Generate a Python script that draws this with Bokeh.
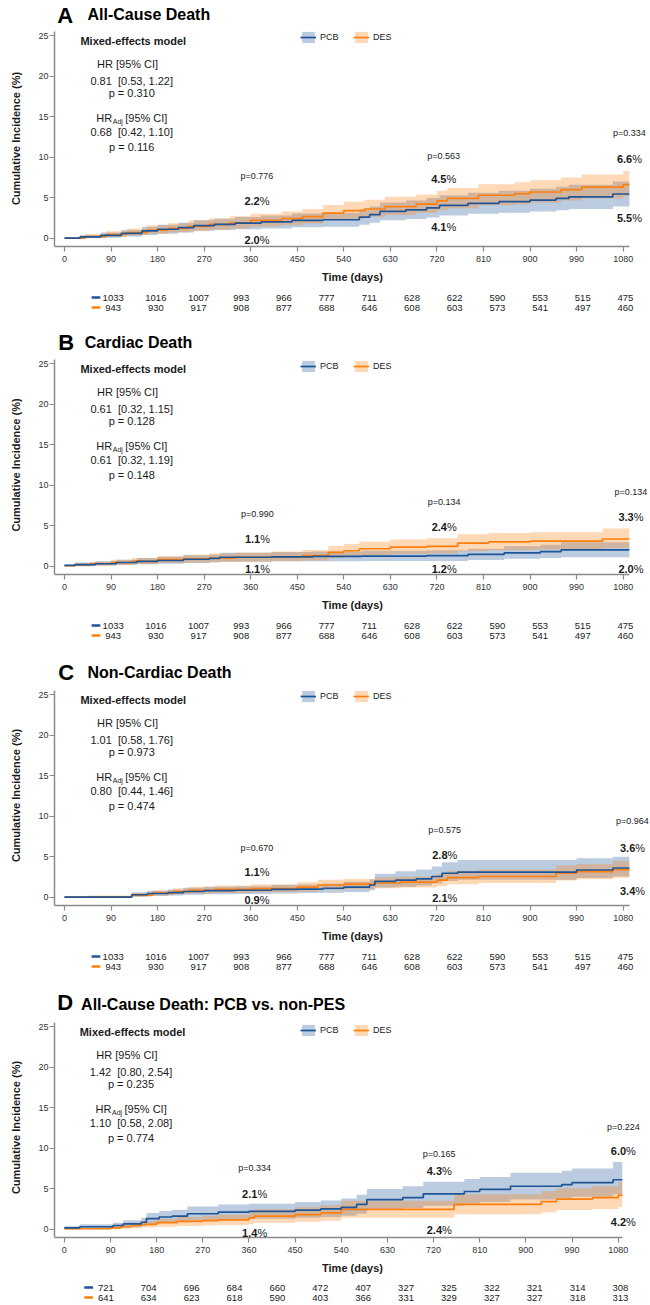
from bokeh.plotting import figure
from bokeh.models import Range1d, FixedTicker, Label, Legend, LegendItem
from bokeh.layouts import column
from bokeh.embed import file_html
from bokeh.resources import INLINE
from bokeh.core.properties import value

FONT = "Liberation Sans"
BLUE = "#1f5597"
ORANGE = "#ff7f0e"
AXIS_GRAY = "#8a8a8a"
TXT = "#1a1a1a"
W = 650

DAYS = [0, 90, 180, 270, 360, 450, 540, 630, 720, 810, 900, 990, 1080]
Y_TICKS = [0, 5, 10, 15, 20, 25]
SERIES = ["PCB", "DES"]

# ---------------- numbers at risk ----------------
RISK_PCB = [1033, 1016, 1007, 993, 966, 777, 711, 628, 622, 590, 553, 515, 475]
RISK_DES = [943, 930, 917, 908, 877, 688, 646, 608, 603, 573, 541, 497, 460]
RISK_PCB_D = [721, 704, 696, 684, 660, 472, 407, 327, 325, 322, 321, 314, 308]
RISK_DES_D = [641, 634, 623, 618, 590, 403, 366, 331, 329, 327, 327, 318, 313]

# ---------------- A: All-cause death ----------------
A_PCB_T = [0, 30, 70, 110, 150, 180, 220, 250, 290, 330, 380, 440, 500, 570, 590, 610, 660, 700, 725, 780, 840, 900, 950, 975, 1060, 1092]
A_PCB_EST = [0.0, 0.15, 0.35, 0.6, 0.9, 1.1, 1.3, 1.55, 1.7, 1.85, 2.0, 2.2, 2.27, 2.6, 2.9, 3.3, 3.5, 3.75, 4.05, 4.3, 4.5, 4.7, 4.9, 5.1, 5.45, 5.45]
A_PCB_LO = [0.0, 0.0, 0.05, 0.2, 0.4, 0.55, 0.7, 0.9, 1.0, 1.1, 1.2, 1.35, 1.4, 1.65, 1.9, 2.2, 2.35, 2.55, 2.8, 3.0, 3.15, 3.3, 3.45, 3.6, 3.9, 3.9]
A_PCB_HI = [0.0, 0.4, 0.7, 1.0, 1.4, 1.65, 1.9, 2.2, 2.4, 2.6, 2.8, 3.05, 3.15, 3.55, 3.9, 4.4, 4.65, 4.95, 5.3, 5.6, 5.85, 6.1, 6.35, 6.6, 7.0, 7.0]
A_DES_T = [0, 40, 80, 120, 160, 200, 240, 280, 320, 360, 420, 460, 500, 540, 580, 620, 680, 720, 740, 800, 870, 900, 960, 1000, 1080, 1092]
A_DES_EST = [0.0, 0.2, 0.45, 0.7, 1.0, 1.2, 1.45, 1.7, 1.9, 2.2, 2.4, 2.65, 3.1, 3.4, 3.6, 3.9, 4.2, 4.6, 4.9, 5.3, 5.5, 5.7, 6.0, 6.3, 6.6, 6.6]
A_DES_LO = [0.0, 0.05, 0.15, 0.35, 0.55, 0.7, 0.85, 1.05, 1.2, 1.45, 1.6, 1.8, 2.2, 2.4, 2.6, 2.85, 3.1, 3.45, 3.7, 4.05, 4.2, 4.4, 4.65, 4.9, 5.2, 5.2]
A_DES_HI = [0.0, 0.5, 0.85, 1.2, 1.6, 1.85, 2.2, 2.45, 2.7, 3.0, 3.3, 3.6, 4.1, 4.5, 4.75, 5.1, 5.4, 5.85, 6.2, 6.65, 6.9, 7.15, 7.5, 7.85, 8.3, 8.3]

# ---------------- B: Cardiac death ----------------
B_PCB_T = [0, 20, 60, 100, 140, 180, 230, 280, 300, 400, 480, 575, 700, 780, 850, 920, 960, 1040, 1092]
B_PCB_EST = [0.1, 0.2, 0.3, 0.45, 0.6, 0.7, 0.85, 0.95, 1.1, 1.15, 1.2, 1.25, 1.3, 1.45, 1.65, 1.8, 2.0, 2.0, 2.0]
B_PCB_LO = [0.0, 0.0, 0.05, 0.15, 0.25, 0.3, 0.4, 0.45, 0.55, 0.6, 0.6, 0.65, 0.65, 0.75, 0.9, 1.0, 1.1, 1.1, 1.1]
B_PCB_HI = [0.2, 0.45, 0.6, 0.8, 1.0, 1.15, 1.35, 1.45, 1.65, 1.75, 1.8, 1.9, 1.95, 2.15, 2.45, 2.65, 2.95, 2.95, 2.95]
B_DES_T = [0, 20, 50, 90, 130, 180, 230, 280, 330, 400, 460, 510, 540, 570, 630, 700, 760, 820, 900, 1040, 1092]
B_DES_EST = [0.05, 0.15, 0.3, 0.45, 0.6, 0.8, 0.9, 1.0, 1.1, 1.15, 1.3, 1.7, 1.9, 2.15, 2.35, 2.45, 2.85, 3.0, 3.1, 3.35, 3.35]
B_DES_LO = [0.0, 0.0, 0.1, 0.15, 0.25, 0.4, 0.45, 0.5, 0.55, 0.6, 0.7, 1.0, 1.15, 1.35, 1.5, 1.55, 1.85, 1.95, 2.05, 2.25, 2.25]
B_DES_HI = [0.15, 0.35, 0.55, 0.8, 1.0, 1.25, 1.4, 1.55, 1.7, 1.8, 2.0, 2.5, 2.75, 3.05, 3.3, 3.45, 3.95, 4.1, 4.2, 4.65, 4.65]

# ---------------- C: Non-cardiac death ----------------
C_PCB_T = [0, 50, 130, 160, 200, 230, 270, 330, 400, 450, 500, 540, 590, 600, 640, 680, 710, 730, 760, 990, 1060, 1092]
C_PCB_EST = [0.0, 0.0, 0.3, 0.45, 0.55, 0.7, 0.8, 0.85, 0.95, 1.0, 1.1, 1.25, 1.5, 1.95, 2.1, 2.25, 2.55, 2.95, 3.1, 3.35, 3.6, 3.6]
C_PCB_LO = [0.0, 0.0, 0.05, 0.15, 0.2, 0.3, 0.35, 0.4, 0.45, 0.5, 0.55, 0.65, 0.85, 1.2, 1.3, 1.45, 1.7, 2.0, 2.15, 2.35, 2.55, 2.55]
C_PCB_HI = [0.0, 0.0, 0.6, 0.8, 0.95, 1.15, 1.3, 1.35, 1.5, 1.55, 1.7, 1.9, 2.2, 2.9, 3.2, 3.4, 3.8, 4.3, 4.6, 4.8, 5.0, 5.0]
C_DES_T = [0, 45, 130, 170, 210, 240, 290, 360, 450, 490, 540, 600, 650, 720, 740, 800, 950, 990, 1060, 1092]
C_DES_EST = [0.0, 0.05, 0.25, 0.5, 0.7, 0.85, 0.95, 1.05, 1.25, 1.5, 1.6, 1.75, 1.85, 2.1, 2.4, 2.55, 2.95, 3.15, 3.4, 3.4]
C_DES_LO = [0.0, 0.0, 0.05, 0.2, 0.35, 0.45, 0.5, 0.6, 0.7, 0.9, 1.0, 1.1, 1.2, 1.35, 1.6, 1.75, 2.05, 2.2, 2.4, 2.4]
C_DES_HI = [0.0, 0.2, 0.5, 0.85, 1.1, 1.3, 1.45, 1.6, 1.85, 2.15, 2.25, 2.45, 2.55, 2.85, 3.25, 3.4, 3.9, 4.1, 4.5, 4.5]

# ---------------- D: All-cause death, PCB vs non-PES ----------------
D_PCB_T = [0, 30, 95, 115, 150, 160, 185, 210, 240, 300, 360, 450, 500, 540, 570, 590, 660, 700, 780, 810, 870, 970, 990, 1070, 1088]
D_PCB_EST = [0.15, 0.3, 0.45, 0.65, 0.85, 1.3, 1.5, 1.6, 1.9, 2.1, 2.2, 2.35, 2.5, 2.7, 3.05, 3.65, 3.9, 4.35, 4.65, 4.9, 5.3, 5.5, 5.75, 6.1, 6.1]
D_PCB_LO = [0.0, 0.05, 0.15, 0.25, 0.35, 0.65, 0.8, 0.85, 1.05, 1.2, 1.3, 1.4, 1.5, 1.65, 1.9, 2.4, 2.6, 2.9, 3.15, 3.35, 3.65, 3.8, 4.0, 4.3, 4.3]
D_PCB_HI = [0.35, 0.6, 0.8, 1.1, 1.4, 2.0, 2.25, 2.4, 2.8, 3.05, 3.15, 3.35, 3.55, 3.8, 4.25, 4.95, 5.3, 5.85, 6.2, 6.45, 6.95, 7.2, 7.5, 8.3, 8.3]
D_DES_T = [0, 90, 110, 130, 150, 180, 220, 270, 300, 360, 370, 450, 500, 540, 760, 930, 960, 1030, 1080, 1088]
D_DES_EST = [0.05, 0.15, 0.3, 0.45, 0.6, 0.8, 0.95, 1.05, 1.15, 1.4, 1.6, 1.8, 2.0, 2.45, 3.05, 3.4, 3.7, 3.9, 4.2, 4.2]
D_DES_LO = [0.0, 0.0, 0.05, 0.1, 0.2, 0.3, 0.4, 0.45, 0.5, 0.65, 0.8, 0.9, 1.05, 1.4, 1.85, 2.1, 2.35, 2.5, 2.75, 2.75]
D_DES_HI = [0.15, 0.4, 0.6, 0.8, 1.0, 1.3, 1.5, 1.65, 1.8, 2.15, 2.45, 2.7, 2.95, 3.5, 4.3, 4.7, 5.05, 5.3, 5.8, 5.8]

# ---------------- texts ----------------
LETTERS = ["A", "B", "C", "D"]
TITLES = ["All-Cause Death", "Cardiac Death", "Non-Cardiac Death", "All-Cause Death: PCB vs. non-PES"]
HR_TXT = ["0.81\u00a0 [0.53, 1.22]", "0.61\u00a0 [0.32, 1.15]", "1.01\u00a0 [0.58, 1.76]", "1.42\u00a0 [0.80, 2.54]"]
HR_P = ["p = 0.310", "p = 0.128", "p = 0.973", "p = 0.235"]
HRADJ_TXT = ["0.68\u00a0 [0.42, 1.10]", "0.61\u00a0 [0.32, 1.19]", "0.80\u00a0 [0.44, 1.46]", "1.10\u00a0 [0.58, 2.08]"]
HRADJ_P = ["p = 0.116", "p = 0.148", "p = 0.474", "p = 0.774"]
LANDMARK_P = [["p=0.776", "p=0.563", "p=0.334"],
              ["p=0.990", "p=0.134", "p=0.134"],
              ["p=0.670", "p=0.575", "p=0.964"],
              ["p=0.334", "p=0.165", "p=0.224"]]
UPPER_PCT = [[2.2, 4.5, 6.6], [1.1, 2.4, 3.3], [1.1, 2.8, 3.6], [2.1, 4.3, 6.0]]
LOWER_PCT = [[2.0, 4.1, 5.5], [1.1, 1.2, 2.0], [0.9, 2.1, 3.4], [1.4, 2.4, 4.2]]

# ---------------- layout (positions only, page pixels) ----------------
LAYOUT = [
    dict(hh=30, mh=256, rh=41, L=54, ppd=0.5173, x0=-19.3, xb=1092.8, let_x=3, let_y=15.3, tit_x=36, tit_y=14.3,
         leg_y=202, rows=[11, 21], cols=[372, 733, 1092],
         py=[7.67, 10.2, 12.96], uy=[4.54, 7.26, 9.74], ly=[-0.2, 1.32, 2.44]),
    dict(hh=28, mh=259, rh=42, L=54, ppd=0.5173, x0=-19.3, xb=1092.8, let_x=4, let_y=14.7, tit_x=33, tit_y=14.7,
         leg_y=201, rows=[11, 21], cols=[373, 734, 1095],
         py=[6.5, 7.9, 9.2], uy=[3.3, 4.85, 6.1], ly=[-0.4, -0.4, -0.4]),
    dict(hh=29, mh=260, rh=43, L=54, ppd=0.5173, x0=-19.3, xb=1092.8, let_x=4, let_y=15.5, tit_x=36, tit_y=16,
         leg_y=202, rows=[11, 21], cols=[372, 735, 1098],
         py=[6.07, 8.28, 9.4], uy=[3.07, 5.24, 6.1], ly=[-0.3, -0.07, 0.8]),
    dict(hh=29, mh=260, rh=27, L=46, ppd=0.5197, x0=-19.2, xb=1088.0, let_x=3, let_y=14, tit_x=29, tit_y=16,
         leg_y=200, rows=[10, 20], cols=[371, 731, 1090],
         py=[7.5, 9.3, 12.6], uy=[4.38, 7.17, 9.6], ly=[-0.42, -0.1, 0.93]),
]
AXIS_BORDER = 40
Y0, Y_AXIS_TOP, PX_PER_UNIT = -1.03, 25.46, 8.1
STATS_X = 130
STATS_Y = [24.35, 21.5, 19.4, 17.9, 14.8, 13.07, 11.2]

CURVES = [
    (A_PCB_T, A_PCB_EST, A_PCB_LO, A_PCB_HI, A_DES_T, A_DES_EST, A_DES_LO, A_DES_HI),
    (B_PCB_T, B_PCB_EST, B_PCB_LO, B_PCB_HI, B_DES_T, B_DES_EST, B_DES_LO, B_DES_HI),
    (C_PCB_T, C_PCB_EST, C_PCB_LO, C_PCB_HI, C_DES_T, C_DES_EST, C_DES_LO, C_DES_HI),
    (D_PCB_T, D_PCB_EST, D_PCB_LO, D_PCB_HI, D_DES_T, D_DES_EST, D_DES_LO, D_DES_HI),
]
RISKS = [(RISK_PCB, RISK_DES)] * 3 + [(RISK_PCB_D, RISK_DES_D)]


def lab(p, x, y, text, size, bold=False, align="center", color=TXT, xo=0, yo=0):
    p.add_layout(Label(x=x, y=y, text=text, text_font=FONT, text_font_size=f"{size}px",
                       text_font_style="bold" if bold else "normal",
                       text_align=align, text_baseline="middle", text_color=color,
                       x_offset=xo, y_offset=yo))


def pct(p, x, y, v):
    # bold number followed by a regular-weight percent sign, centred on x
    lab(p, x, y, f"{v:.1f}", 11, bold=True, align="right", xo=2.8)
    lab(p, x, y, "%", 11, align="left", xo=2.8)


def style_axis(ax):
    ax.axis_line_color = AXIS_GRAY
    ax.axis_line_width = 1.5
    ax.major_tick_line_color = AXIS_GRAY
    ax.major_tick_line_width = 1.2
    ax.major_tick_out = 5
    ax.major_tick_in = 0
    ax.minor_tick_out = 0
    ax.minor_tick_in = 0
    ax.major_label_text_font = FONT
    ax.major_label_text_font_size = "9px"
    ax.major_label_text_color = "#333333"
    ax.axis_label_text_font = FONT
    ax.axis_label_text_font_size = "11px"
    ax.axis_label_text_font_style = "bold"
    ax.axis_label_text_color = TXT


def plain_fig(h, xr, yr):
    f = figure(width=W, height=h, x_range=xr, y_range=yr, output_backend="svg",
               toolbar_location=None, title=None, x_axis_location=None, y_axis_location=None,
               min_border=0)
    f.grid.visible = False
    f.outline_line_color = None
    f.background_fill_color = "white"
    f.border_fill_color = "white"
    return f


figs = []
for i in range(4):
    cfg = LAYOUT[i]
    L, ppd, x0 = cfg["L"], cfg["ppd"], cfg["x0"]
    x_end = x0 + (W - L) / ppd

    # ---- header (panel letter + title)
    hh = cfg["hh"]
    hf = plain_fig(hh, Range1d(0, W), Range1d(hh, 0))
    hf.text(x=[cfg["let_x"]], y=[cfg["let_y"]], text=[LETTERS[i]], text_font=value(FONT),
            text_font_size=value("22px"), text_font_style="bold", text_color="#000000",
            text_align="left", text_baseline="middle")
    hf.text(x=[cfg["tit_x"]], y=[cfg["tit_y"]], text=[TITLES[i]], text_font=value(FONT),
            text_font_size=value("16px"), text_font_style="bold", text_color="#000000",
            text_align="left", text_baseline="middle")
    figs.append(hf)

    # ---- main plot
    mh = cfg["mh"]
    frame_h = mh - AXIS_BORDER
    p = figure(width=W, height=mh, x_range=Range1d(x0, x_end),
               y_range=Range1d(Y0, Y0 + frame_h / PX_PER_UNIT),
               output_backend="svg", toolbar_location=None, title=None,
               min_border_left=L, min_border_right=0, min_border_top=0,
               min_border_bottom=AXIS_BORDER)
    p.grid.visible = False
    p.outline_line_color = None
    p.background_fill_color = "white"
    p.border_fill_color = "white"

    pt, pe, plo, phi, dt, de, dlo, dhi = CURVES[i]
    band_p = p.varea_step(x=pt, y1=plo, y2=phi, step_mode="after", fill_color=BLUE, fill_alpha=0.3)
    band_d = p.varea_step(x=dt, y1=dlo, y2=dhi, step_mode="after", fill_color=ORANGE, fill_alpha=0.3)
    line_d = p.step(x=dt, y=de, mode="after", line_color=ORANGE, line_width=1.7)
    line_p = p.step(x=pt, y=pe, mode="after", line_color=BLUE, line_width=1.7)

    xa = p.xaxis[0]
    style_axis(xa)
    xa.ticker = FixedTicker(ticks=DAYS)
    xa.bounds = (x0, cfg["xb"])
    xa.axis_label = "Time (days)"
    xa.axis_label_standoff = 6
    xa.major_label_standoff = 4
    ya = p.yaxis[0]
    style_axis(ya)
    ya.ticker = FixedTicker(ticks=Y_TICKS)
    ya.bounds = (Y0, Y_AXIS_TOP)
    ya.axis_label = "Cumulative Incidence (%)"
    ya.axis_label_standoff = 13
    ya.major_label_standoff = 1

    legend = Legend(items=[LegendItem(label=SERIES[0], renderers=[band_p, line_p]),
                           LegendItem(label=SERIES[1], renderers=[band_d, line_d])],
                    orientation="horizontal", location=(246, cfg["leg_y"]))
    legend.glyph_width = 16
    legend.glyph_height = 14
    legend.label_standoff = 4
    legend.spacing = 13
    legend.padding = 0
    legend.margin = 0
    legend.border_line_color = None
    legend.background_fill_alpha = 0
    legend.label_text_font = FONT
    legend.label_text_font_size = "9px"
    legend.label_text_color = TXT
    p.add_layout(legend)

    lab(p, STATS_X + 3, STATS_Y[0], "Mixed-effects model", 11, bold=True)
    lab(p, STATS_X - 8, STATS_Y[1], "HR [95% CI]", 11)
    lab(p, STATS_X, STATS_Y[2], HR_TXT[i], 11)
    lab(p, STATS_X, STATS_Y[3], HR_P[i], 11)
    lab(p, STATS_X, STATS_Y[4], "HR", 11, align="right", xo=-19.5)
    lab(p, STATS_X, STATS_Y[4], "Adj", 7, align="left", xo=-19, yo=-3)
    lab(p, STATS_X, STATS_Y[4], "[95% CI]", 11, align="left", xo=-6.5)
    lab(p, STATS_X, STATS_Y[5], HRADJ_TXT[i], 11)
    lab(p, STATS_X, STATS_Y[6], HRADJ_P[i], 11)

    for k in range(3):
        cx = cfg["cols"][k]
        lab(p, cx, cfg["py"][k], LANDMARK_P[i][k], 9)
        pct(p, cx, cfg["uy"][k], UPPER_PCT[i][k])
        pct(p, cx, cfg["ly"][k], LOWER_PCT[i][k])
    figs.append(p)

    # ---- numbers at risk (same horizontal scale as the main plot)
    rh = cfg["rh"]
    rf = plain_fig(rh, Range1d(x0 - L / ppd, x_end), Range1d(rh, 0))
    rp, rd = RISKS[i]
    r1, r2 = cfg["rows"]
    rf.text(x=DAYS, y=[r1] * len(DAYS), text=[str(v) for v in rp], text_font=value(FONT),
            text_font_size=value("9.5px"), text_color=TXT, text_align="center", text_baseline="middle")
    rf.text(x=DAYS, y=[r2] * len(DAYS), text=[str(v) for v in rd], text_font=value(FONT),
            text_font_size=value("9.5px"), text_color=TXT, text_align="center", text_baseline="middle")
    dash_a, dash_b = x0 - 13.5 / ppd, x0 - 4 / ppd
    rf.segment(x0=[dash_a, dash_a], y0=[r1, r2], x1=[dash_b, dash_b], y1=[r1, r2],
               line_color=[BLUE, ORANGE], line_width=2.6)
    figs.append(rf)

layout = column(*figs, spacing=0)
open("out.html", "w").write(file_html(layout, INLINE))
